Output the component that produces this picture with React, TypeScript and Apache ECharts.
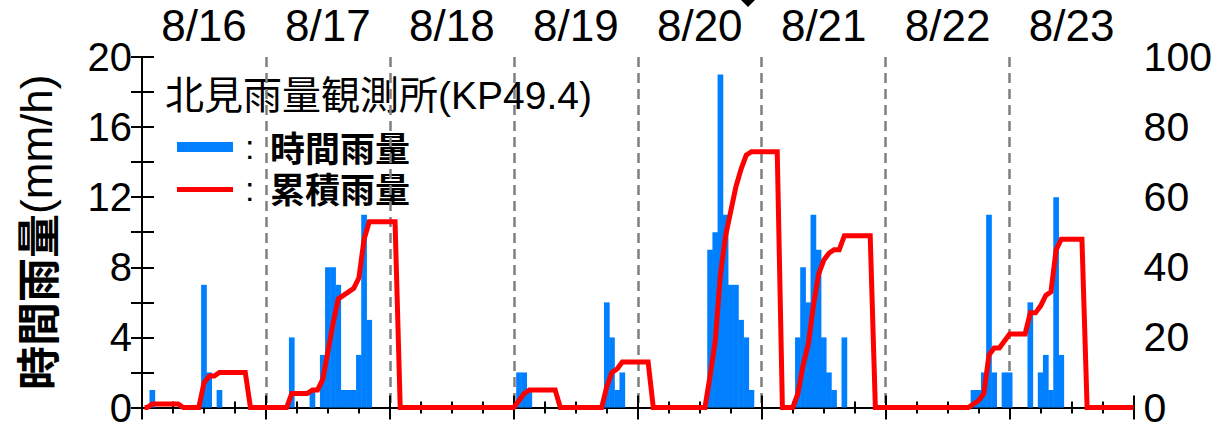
import React, { useEffect, useRef } from "react";
import * as echarts from "echarts";

// ---- data (hours counted from 8/16 00:00) ----
const dayLabels = ["8/16", "8/17", "8/18", "8/19", "8/20", "8/21", "8/22", "8/23"];

// hourly rainfall (mm/h)
const rainHours = [
  2, 12, 13, 15,
  29, 33, 35, 36, 37, 38, 39, 40, 41, 42, 43, 44,
  73, 74, 75,
  90, 91, 92, 93,
  110, 111, 112, 113, 114, 115, 116, 117, 118,
  127, 128, 129, 130, 131, 132, 133, 134, 136,
  161, 162, 163, 164, 165, 167, 168, 172, 174, 175, 176, 177, 178,
];
const rainMm = [
  1, 7, 2, 1,
  4, 1, 3, 8, 8, 7, 1, 1, 1, 3, 11, 5,
  2, 2, 1,
  6, 4, 1, 2,
  9, 10, 19, 11, 7, 7, 5, 4, 1,
  4, 8, 6, 11, 9, 4, 2, 1, 4,
  1, 1, 2, 11, 2, 2, 2, 6, 2, 3, 1, 12, 3,
];

// cumulative rainfall line vertices (mm)
const cumHours = [
  0.5, 1, 2, 7, 8,
  11, 12, 13, 14, 15, 20, 21,
  28, 29, 32, 33, 34, 35, 36, 37, 38, 39, 40, 41, 42, 43, 44, 49, 50,
  72, 73, 74, 75, 80, 81,
  89, 90, 91, 92, 93, 98, 99,
  109, 110, 111, 112, 113, 114, 115, 116, 117, 118, 123, 124,
  126, 127, 128, 129, 130, 131, 132, 133, 134, 135, 136, 141, 142,
  160, 161, 162, 163, 164, 165, 166, 167, 168, 171, 172, 173, 174, 175, 176, 177, 178, 182, 183,
  192,
];
const cumMm = [
  0, 0, 1, 1, 0,
  0, 7, 9, 9, 10, 10, 0,
  0, 4, 4, 5, 5, 8, 16, 24, 31, 32, 33, 34, 37, 48, 53, 53, 0,
  0, 2, 4, 5, 5, 0,
  0, 6, 10, 11, 13, 13, 0,
  0, 9, 19, 38, 49, 56, 63, 68, 72, 73, 73, 0,
  0, 4, 12, 18, 29, 38, 42, 44, 45, 45, 49, 49, 0,
  0, 1, 2, 4, 15, 17, 17, 19, 21, 21, 27, 27, 29, 32, 33, 45, 48, 48, 0,
  0,
];

const leftTicks = { min: 0, max: 20, step: 2, labelEvery: 4 };
const rightTicks = { min: 0, max: 100, step: 10, labelEvery: 20 };

const stationTitle = "北見雨量観測所(KP49.4)";
const legendHourly = "時間雨量";
const legendCum = "累積雨量";
const yName = "時間雨量";
const yUnit = "(mm/h)";

const LATIN = "'Liberation Sans', Arial, sans-serif";
const MIXED = "'Liberation Sans', 'Noto Sans CJK JP', sans-serif";
const CJK = "'Noto Sans CJK JP', sans-serif";

export default function App() {
  const ref = useRef<HTMLDivElement>(null);

  useEffect(() => {
    if (!ref.current) return;
    const chart = echarts.init(ref.current, undefined, { renderer: "svg" });

    const barData = rainHours.map((h, i) => [h, rainMm[i]]);
    const lineData = cumHours.map((h, i) => [h, cumMm[i]]);

    const axisLine = { show: true, lineStyle: { color: "#000", width: 2 } };

    const option: any = {
      animation: false,
      backgroundColor: "#fff",
      grid: { left: 142, right: 80, top: 57, bottom: 17, containLabel: false },
      xAxis: [
        {
          type: "value",
          position: "bottom",
          min: 0,
          max: 192,
          interval: 24,
          axisLine,
          axisTick: { show: true, inside: true, length: 12, lineStyle: { color: "#000", width: 2 } },
          minorTick: { show: true, splitNumber: 4, length: 6, lineStyle: { color: "#000", width: 2 } },
          axisLabel: { show: false },
          splitLine: {
            show: true,
            showMinLine: false,
            showMaxLine: false,
            lineStyle: { color: "#808080", width: 2.5, type: [10, 6] },
          },
        },
        {
          type: "value",
          position: "top",
          min: 0,
          max: 192,
          interval: 24,
          axisLine,
          axisTick: { show: true, inside: true, length: 12, lineStyle: { color: "#000", width: 2 } },
          minorTick: { show: true, splitNumber: 4, length: 6, lineStyle: { color: "#000", width: 2 } },
          axisLabel: { show: false },
          splitLine: { show: false },
        },
        {
          type: "category",
          position: "top",
          data: dayLabels,
          boundaryGap: true,
          axisLine: { show: false },
          axisTick: { show: false },
          axisLabel: { show: true, color: "#000", fontSize: 44, lineHeight: 40, fontFamily: LATIN, margin: 12 },
          splitLine: { show: false },
        },
      ],
      yAxis: [
        {
          type: "value",
          position: "left",
          min: leftTicks.min,
          max: leftTicks.max,
          interval: leftTicks.step,
          axisLine,
          axisTick: { show: true, inside: true, length: 12, lineStyle: { color: "#000", width: 2 } },
          axisLabel: {
            color: "#000",
            fontSize: 40,
            lineHeight: 32,
            fontFamily: LATIN,
            margin: 10,
            formatter: (v: number) => (v % leftTicks.labelEvery === 0 ? String(v) : ""),
          },
          splitLine: { show: false },
          name: `{a|${yName}}{b|${yUnit}}`,
          nameLocation: "middle",
          nameGap: 84,
          nameTextStyle: {
            rich: {
              a: { fontSize: 44, fontWeight: "bold", fontFamily: CJK, color: "#000" },
              b: { fontSize: 44, fontFamily: LATIN, color: "#000" },
            },
          },
        },
        {
          type: "value",
          position: "right",
          min: rightTicks.min,
          max: rightTicks.max,
          interval: rightTicks.step,
          axisLine,
          axisTick: { show: true, inside: true, length: 11, lineStyle: { color: "#000", width: 2 } },
          axisLabel: {
            color: "#000",
            fontSize: 41,
            lineHeight: 32,
            fontFamily: LATIN,
            margin: 10,
            formatter: (v: number) => (v % rightTicks.labelEvery === 0 ? String(v) : ""),
          },
          splitLine: { show: false },
        },
      ],
      series: [
        {
          name: legendHourly,
          type: "bar",
          xAxisIndex: 0,
          yAxisIndex: 0,
          data: barData,
          barWidth: 5.7,
          itemStyle: { color: "#0080ff" },
        },
        {
          name: legendCum,
          type: "line",
          xAxisIndex: 0,
          yAxisIndex: 1,
          data: lineData,
          showSymbol: false,
          symbol: "none",
          lineStyle: { color: "#ff0000", width: 5, join: "miter" },
        },
      ],
      graphic: [
        {
          type: "text",
          left: 165,
          top: 76,
          style: { text: stationTitle, fontSize: 39, fontFamily: MIXED, fill: "#000" },
        },
        { type: "rect", shape: { x: 177, y: 142, width: 56, height: 10 }, style: { fill: "#0080ff" } },
        {
          type: "text",
          x: 245,
          y: 147,
          style: { text: ":", fontSize: 34, lineHeight: 30, fontFamily: LATIN, fill: "#000", verticalAlign: "middle" },
        },
        {
          type: "text",
          x: 270,
          y: 146,
          style: {
            text: legendHourly,
            fontSize: 35,
            lineHeight: 36,
            fontWeight: "bold",
            fontFamily: CJK,
            fill: "#000",
            verticalAlign: "middle",
          },
        },
        { type: "rect", shape: { x: 177, y: 187, width: 56, height: 5 }, style: { fill: "#ff0000" } },
        {
          type: "text",
          x: 245,
          y: 189,
          style: { text: ":", fontSize: 34, lineHeight: 30, fontFamily: LATIN, fill: "#000", verticalAlign: "middle" },
        },
        {
          type: "text",
          x: 270,
          y: 187,
          style: {
            text: legendCum,
            fontSize: 35,
            lineHeight: 36,
            fontWeight: "bold",
            fontFamily: CJK,
            fill: "#000",
            verticalAlign: "middle",
          },
        },
        {
          type: "polygon",
          shape: { points: [[739, -2], [748, -11], [757, -2], [748, 7]] },
          style: { fill: "#000" },
        },
      ],
    };

    chart.setOption(option);
    return () => chart.dispose();
  }, []);

  return (
    <div
      ref={ref}
      style={{ position: "fixed", left: 0, top: 0, width: 1215, height: 428, background: "#fff" }}
    />
  );
}
